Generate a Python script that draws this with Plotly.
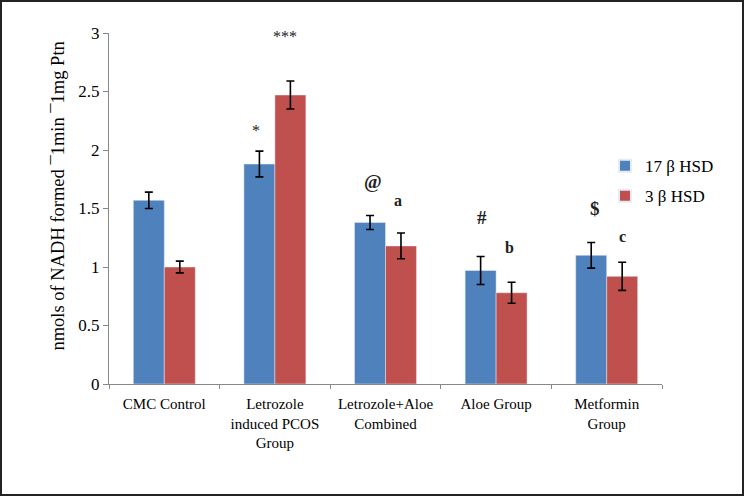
import plotly.graph_objects as go

categories = ["CMC Control", "Letrozole<br>induced PCOS<br>Group", "Letrozole+Aloe<br>Combined",
              "Aloe Group", "Metformin<br>Group"]
hsd17_values = [1.57, 1.88, 1.38, 0.97, 1.10]
hsd17_errors = [0.07, 0.11, 0.06, 0.12, 0.11]
hsd3_values = [1.00, 2.47, 1.18, 0.78, 0.92]
hsd3_errors = [0.05, 0.12, 0.11, 0.09, 0.12]
series_names = ["17 β HSD", "3 β HSD"]
y_title = "nmols of NADH formed ¯1min ¯1mg Ptn"

# significance markers: category index, offset within the group, y value, label
marker_cats = [1, 1, 2, 2, 3, 3, 4, 4]
marker_offsets = [-0.17, 0.09, -0.11, 0.11, -0.13, 0.12, -0.11, 0.14]
marker_y = [2.17, 2.97, 1.73, 1.57, 1.42, 1.17, 1.50, 1.26]
marker_text = ["*", "***", "@", "a", "#", "b", "$", "c"]

SERIF = "Liberation Serif, Times New Roman, serif"

fig = go.Figure()
fig.add_trace(go.Bar(
    x=categories, y=hsd17_values, name=series_names[0],
    marker_color="#4F81BD", legendgroup="g1",
    error_y=dict(type="data", array=hsd17_errors, color="#000000", thickness=1.6, width=4),
))
fig.add_trace(go.Bar(
    x=categories, y=hsd3_values, name=series_names[1],
    marker_color="#C0504D", legendgroup="g2",
    error_y=dict(type="data", array=hsd3_errors, color="#000000", thickness=1.6, width=4),
))

for c, off, yv, t in zip(marker_cats, marker_offsets, marker_y, marker_text):
    big = t in ("@", "#", "$")
    fig.add_annotation(x=c + off, y=yv, text=t if t.startswith("*") else "<b>" + t + "</b>",
                       showarrow=False,
                       font=dict(family=SERIF, size=19 if big else 16, color="#222222"),
                       xref="x", yref="y")

W, H = 744, 496
L, R, T, B = 109, 82, 33, 112
pw, ph = W - L - R, H - T - B

fig.add_annotation(text=y_title, textangle=-90, showarrow=False,
                   xref="paper", yref="paper", x=(58 - L) / pw, y=0.534,
                   xanchor="center", yanchor="middle",
                   font=dict(family=SERIF, size=18.5, color="#000000"))

fig.update_layout(
    width=W, height=H,
    margin=dict(l=L, r=R, t=T, b=B, autoexpand=False),
    paper_bgcolor="white", plot_bgcolor="white",
    barmode="group", bargap=0.44, bargroupgap=0,
    font=dict(family=SERIF, color="#000000"),
    showlegend=True,
    legend=dict(x=(605 - L) / pw, y=0.578, xanchor="left", yanchor="middle",
                font=dict(family=SERIF, size=17), itemsizing="constant",
                tracegroupgap=5, bgcolor="rgba(0,0,0,0)"),
    xaxis=dict(
        type="category", automargin=False,
        showline=True, linecolor="#888888", linewidth=1,
        ticks="outside", tickson="boundaries", ticklen=4, tickcolor="#888888",
        ticklabelstandoff=6,
        tickfont=dict(family=SERIF, size=15), showgrid=False, zeroline=False,
    ),
    yaxis=dict(
        range=[0, 3], tickmode="linear", tick0=0, dtick=0.5, automargin=False,
        showline=True, linecolor="#888888", linewidth=1,
        ticks="outside", ticklen=5, tickcolor="#888888",
        tickfont=dict(family=SERIF, size=17), showgrid=False, zeroline=False,
    ),
)

# dark frame around the whole picture
fig.add_shape(type="rect", xref="paper", yref="paper",
              x0=-(L - 1) / pw, x1=1 + (R - 1) / pw,
              y0=-(B - 1) / ph, y1=1 + (T - 1) / ph,
              line=dict(color="#222222", width=2))

fig.write_html("out.html", config={"displayModeBar": False},
               post_script="document.body.style.margin='0';")
